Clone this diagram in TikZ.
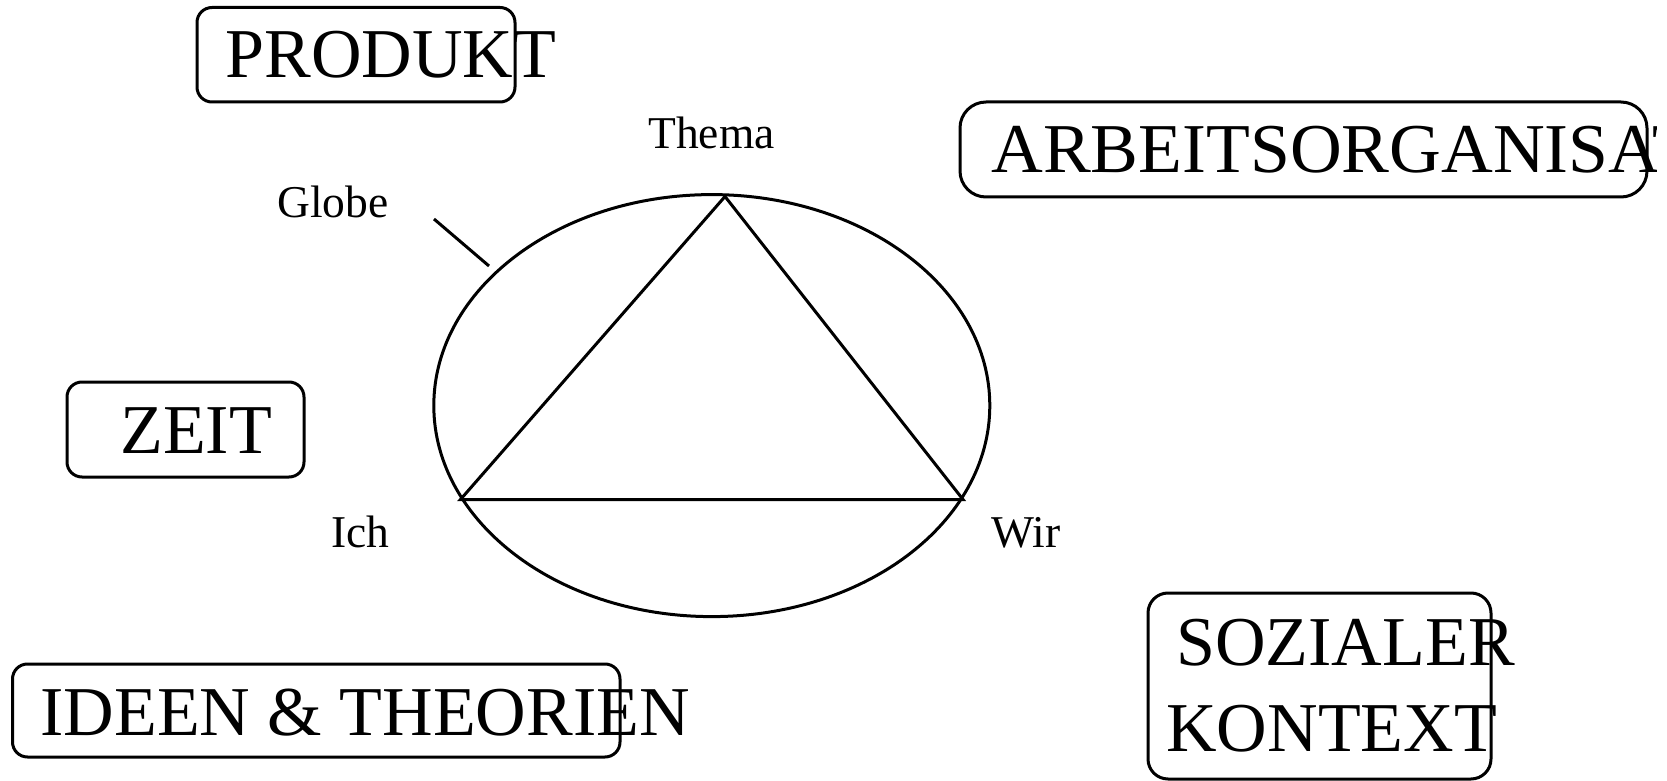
\documentclass[tikz,border=0pt]{standalone}
\usepackage{fontspec}
\setmainfont{Liberation Serif}
\usetikzlibrary{shapes.geometric}
\begin{document}
\begin{tikzpicture}[x=0.5pt,y=-0.5pt,
  box/.style={draw, line width=1.5pt, rounded corners=7.5pt, inner sep=0pt, outer sep=0pt},
  bigtxt/.style={anchor=base west, inner sep=0pt, font=\fontsize{35pt}{42pt}\selectfont},
  smalltxt/.style={anchor=base west, inner sep=0pt, font=\fontsize{22.75pt}{27.3pt}\selectfont},
  ln/.style={line width=1.5pt, line join=miter}]
\useasboundingbox (0,0) rectangle (1667,781);
% boxes
\node[box, minimum width=159pt, minimum height=47.25pt] (pbox) at (356,54.75) {};
\node[box, rounded corners=13pt, minimum width=343.5pt, minimum height=47.5pt] (abox) at (1303.5,149.5) {};
\node[box, minimum width=118.5pt, minimum height=47.5pt] (zbox) at (185.5,429.5) {};
\node[box, minimum width=303.75pt, minimum height=46.5pt] (ibox) at (316.25,710.5) {};
\node[box, rounded corners=10pt, minimum width=171.5pt, minimum height=93pt] (sbox) at (1319.5,686) {};
% big texts
\node[bigtxt] (produkt) at (225,78) {PRODUKT};
\begin{scope}
  \clip (0,0) rectangle (1656,781);
  \node[bigtxt, xscale=1.024, transform shape] (arbeit) at (991,173) {ARBEITSORGANISATION};
\end{scope}
\node[bigtxt] (zeit) at (120,453) {ZEIT};
\node[bigtxt] (ideen) at (40,735) {IDEEN \& THEORIEN};
\node[bigtxt] (soz1) at (1176,665) {SOZIALER};
\node[bigtxt] (soz2) at (1166,751) {KONTEXT};
% globe
\node[draw, line width=1.5pt, ellipse, inner sep=0pt, outer sep=0pt, minimum width=278pt, minimum height=211pt] (globe) at (711.8,405.6) {};
\coordinate (T) at (725,196.5);
\coordinate (I) at (460.5,499.5);
\coordinate (W) at (963,499.5);
\draw[ln] (T) -- (I) -- (W) -- cycle;
% labels
\node[smalltxt] (thema) at (648,149) {Thema};
\node[smalltxt] (globelbl) at (277,218) {Globe};
\node[smalltxt] (ich) at (331,547) {Ich};
\node[smalltxt] (wir) at (991,547) {Wir};
\coordinate (g1) at (434,219);
\coordinate (g2) at (489,266);
\draw[ln] (g1) -- (g2);
\end{tikzpicture}
\end{document}
